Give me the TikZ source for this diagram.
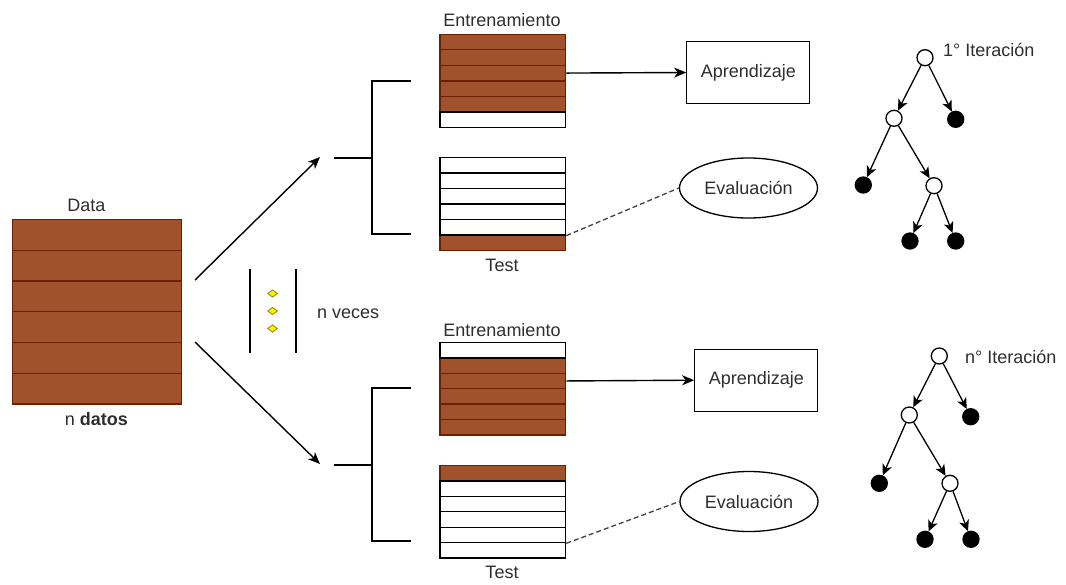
\documentclass[tikz,border=0pt]{standalone}
\usepackage{fontspec}
\setmainfont{Liberation Sans}
\usetikzlibrary{arrows.meta,shapes.geometric}
\definecolor{sienna}{HTML}{A0522D}
\definecolor{siennadk}{HTML}{6D1F00}
\definecolor{txt}{HTML}{2E2E2E}
\definecolor{dotfill}{HTML}{FFF000}
\definecolor{dotline}{HTML}{8A8A00}
\begin{document}
\begin{tikzpicture}[x=1pt,y=-1pt,
  every node/.style={font=\fontsize{18}{21}\selectfont, text=txt},
  cell/.style={draw, inner sep=0, minimum width=125.7pt, minimum height=15.5pt,
               anchor=north west, line width=1.3pt},
  full/.style={cell, fill=sienna, draw=siennadk},
  empty/.style={cell, fill=white, draw=black},
  datacell/.style={full, minimum width=169pt, minimum height=30.7pt},
  label/.style={anchor=base, inner sep=0},
  box/.style={draw, line width=1.3pt, minimum width=123pt, minimum height=62pt, inner sep=0},
  oval/.style={ellipse, draw, line width=1.3pt, minimum width=138pt, minimum height=60pt, inner sep=0},
  flow/.style={-{Stealth[length=12pt,width=10pt,inset=3.5pt]}, line width=1.4pt},
  dashlink/.style={dashed, dash pattern=on 5pt off 3pt, draw=black!75, line width=1.3pt},
  brace/.style={line width=2.5pt},
  openv/.style={circle, draw, fill=white, line width=1.3pt, minimum size=16pt, inner sep=0},
  leafv/.style={circle, draw, fill=black, line width=1.3pt, minimum size=16pt, inner sep=0},
  edge/.style={-{Stealth[length=11pt,width=10pt,inset=3pt]}, line width=1.3pt},
  dot/.style={diamond, draw=dotline, fill=dotfill, line width=0.8pt, minimum width=10pt,
              minimum height=7.5pt, inner sep=0},
]
\useasboundingbox (0,0) rectangle (1066,584);

% ---- full data set ----
\foreach \i in {1,...,6}
  \node[datacell] (d\i) at (12,{219+(\i-1)*30.7}) {};
\node[label] (dlab) at (86.5,211) {Data};
\node[label] (nlab) at (96.3,425) {n \textbf{datos}};

% ---- split arrows ----
\coordinate (su) at (195,280);
\coordinate (sd) at (195,342);
\coordinate (eu) at (320,157);
\coordinate (ed) at (320,464);
\draw[flow] (su) -- (eu);
\draw[flow] (sd) -- (ed);

% ---- brackets ----
\coordinate (bu) at (372,158);
\draw[brace] (411,81) -- (372,81) -- (372,234) -- (411,234);
\draw[brace] (334,158) -- (bu);
\coordinate (bd) at (372,465);
\draw[brace] (411,388) -- (372,388) -- (372,541) -- (411,541);
\draw[brace] (334,465) -- (bd);

% ---- repetition marker ----
\draw[line width=1.3pt] (250,269) -- (250,353);
\draw[line width=1.3pt] (296,269) -- (296,353);
\node[dot] (k1) at (272.5,293.5) {};
\node[dot] (k2) at (272.5,311) {};
\node[dot] (k3) at (272.5,328.5) {};
\node[label, anchor=base west] (nv) at (317,318) {n veces};

% ---- first iteration: training / test ----
\foreach \i in {1,...,5}
  \node[full] (trA\i) at (439.3,{33.5+(\i-1)*15.58}) {};
\node[empty] (trA6) at (439.3,111.4) {};
\node[label] (trAlab) at (502,26) {Entrenamiento};

\node[full] (teA6) at (439.3,234.4) {};
\foreach \i in {1,...,5}
  \node[empty] (teA\i) at (439.3,{156.7+(\i-1)*15.54}) {};
\node[label] (teAlab) at (502,271) {Test};

\node[box] (apA) at (748.3,72.5) {Aprendizaje};
\node[oval] (evA) at (748.5,188) {Evaluación};
\draw[flow] (trA3.east) -- (apA.west);
\draw[dashlink] (teA5.south east) -- (evA.west);

% ---- n-th iteration: training / test ----
\foreach \i in {2,...,6}
  \node[full] (trB\i) at (439.3,{341.7+(\i-1)*15.43}) {};
\node[empty] (trB1) at (439.3,341.7) {};
\node[label] (trBlab) at (502,336) {Entrenamiento};

\node[full] (teB1) at (439.3,465) {};
\foreach \i in {2,...,6}
  \node[empty] (teB\i) at (439.3,{465+(\i-1)*15.38}) {};
\node[label] (teBlab) at (502,578) {Test};

\node[box] (apB) at (756.3,380.2) {Aprendizaje};
\node[oval] (evB) at (749,501.5) {Evaluación};
\draw[flow] (trB3.east) -- (apB.west);
\draw[dashlink] (teB5.south east) -- (evB.west);

% ---- tree of the first iteration ----
\node[openv] (a0) at (925,57.7) {};
\node[openv] (a1) at (894,118.3) {};
\node[leafv] (a2) at (955.7,119.3) {};
\node[leafv] (a3) at (863.3,185) {};
\node[openv] (a4) at (934,185.7) {};
\node[leafv] (a5) at (910,241) {};
\node[leafv] (a6) at (955.7,241) {};
\draw[edge] (a0) -- (a1);
\draw[edge] (a0) -- (a2);
\draw[edge] (a1) -- (a3);
\draw[edge] (a1) -- (a4);
\draw[edge] (a4) -- (a5);
\draw[edge] (a4) -- (a6);
\node[label, anchor=base west] (alab) at (943,56) {1° Iteración};

% ---- tree of the n-th iteration ----
\node[openv] (b0) at (939.3,356) {};
\node[openv] (b1) at (909.3,415) {};
\node[leafv] (b2) at (970.7,416.7) {};
\node[leafv] (b3) at (879.3,483.3) {};
\node[openv] (b4) at (950,483.3) {};
\node[leafv] (b5) at (925,539.3) {};
\node[leafv] (b6) at (971,539.3) {};
\draw[edge] (b0) -- (b1);
\draw[edge] (b0) -- (b2);
\draw[edge] (b1) -- (b3);
\draw[edge] (b1) -- (b4);
\draw[edge] (b4) -- (b5);
\draw[edge] (b4) -- (b6);
\node[label, anchor=base west] (blab) at (965,363) {n° Iteración};
\end{tikzpicture}
\end{document}
